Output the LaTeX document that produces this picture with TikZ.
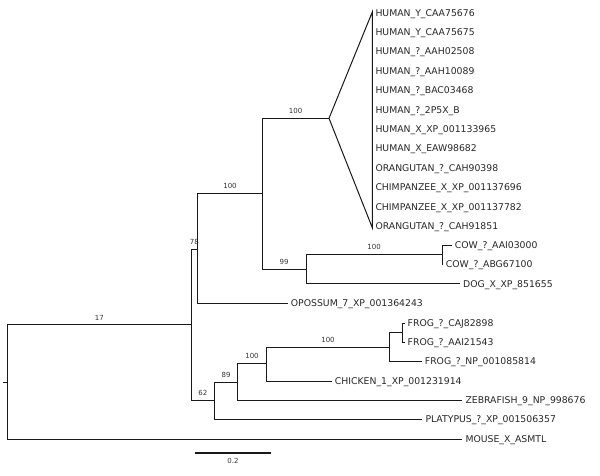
\documentclass[tikz,border=0pt]{standalone}
\usepackage{fontspec}
\setmainfont{DejaVu Sans}
\begin{document}
\begin{tikzpicture}[x=1pt,y=-1pt,
		branch/.style={draw=black!90, line width=1pt},
		leaf/.style={anchor=west, inner sep=3pt, text height=6.8pt, text depth=0pt, text=black!85, font=\fontsize{9.3}{11}\selectfont},
		boot/.style={pos=0.75, anchor=south, inner sep=0pt, yshift=4pt, text height=5pt, text depth=0pt, text=black!80, font=\fontsize{7}{8}\selectfont}]
		\useasboundingbox (0,0) rectangle (600,476);
		% inner nodes of the tree
		\coordinate (rootstub) at (3,382);
		\coordinate (root) at (7.7,382);
		\coordinate (n17) at (191,324.7);
		\coordinate (n78) at (197.7,249);
		\coordinate (prim) at (262.3,193.3);
		\coordinate (hom) at (329,118.3);
		\coordinate (tritop) at (372.3,12);
		\coordinate (tribot) at (372.3,227.7);
		\coordinate (laur) at (306,269.3);
		\coordinate (cow) at (442.3,254.3);
		\coordinate (n62) at (214.7,400.3);
		\coordinate (n89) at (237.3,382.3);
		\coordinate (tetra) at (266.7,363.3);
		\coordinate (frog) at (389.3,347.3);
		\coordinate (frogsub) at (402.7,332.3);
		% collapsed clade
		\node[leaf] (h1) at (372.3,12.7) {HUMAN\_Y\_CAA75676};
		\node[leaf] (h2) at (372.3,32.1) {HUMAN\_Y\_CAA75675};
		\node[leaf] (h3) at (372.3,51.5) {HUMAN\_?\_AAH02508};
		\node[leaf] (h4) at (372.3,70.9) {HUMAN\_?\_AAH10089};
		\node[leaf] (h5) at (372.3,90.3) {HUMAN\_?\_BAC03468};
		\node[leaf] (h6) at (372.3,109.7) {HUMAN\_?\_2P5X\_B};
		\node[leaf] (h7) at (372.3,129.1) {HUMAN\_X\_XP\_001133965};
		\node[leaf] (h8) at (372.3,148.5) {HUMAN\_X\_EAW98682};
		\node[leaf] (h9) at (372.3,167.9) {ORANGUTAN\_?\_CAH90398};
		\node[leaf] (h10) at (372.3,187.3) {CHIMPANZEE\_X\_XP\_001137696};
		\node[leaf] (h11) at (372.3,206.7) {CHIMPANZEE\_X\_XP\_001137782};
		\node[leaf] (h12) at (372.3,226.1) {ORANGUTAN\_?\_CAH91851};
		% other leaves
		\node[leaf] (cow1) at (451.7,245) {COW\_?\_AAI03000};
		\node[leaf] (cow2) at (442.7,264.3) {COW\_?\_ABG67100};
		\node[leaf] (dog) at (460,283.7) {DOG\_X\_XP\_851655};
		\node[leaf] (opossum) at (287.7,303.3) {OPOSSUM\_7\_XP\_001364243};
		\node[leaf] (frog1) at (404.5,323.3) {FROG\_?\_CAJ82898};
		\node[leaf] (frog2) at (404.5,342) {FROG\_?\_AAI21543};
		\node[leaf] (frog3) at (421.7,361) {FROG\_?\_NP\_001085814};
		\node[leaf] (chicken) at (331.7,381) {CHICKEN\_1\_XP\_001231914};
		\node[leaf] (zebrafish) at (462.3,400) {ZEBRAFISH\_9\_NP\_998676};
		\node[leaf] (platypus) at (422.3,419.3) {PLATYPUS\_?\_XP\_001506357};
		\node[leaf] (mouse) at (462.3,439) {MOUSE\_X\_ASMTL};
		% branches
		\draw[branch] (rootstub) -- (root);
		\draw[branch] (root) |- node[boot] {17} (n17);
		\draw[branch] (root) |- (mouse.west);
		\draw[branch] (n17) |- node[boot] {78} (n78);
		\draw[branch] (n17) |- node[boot] {62} (n62);
		\draw[branch] (n78) |- node[boot] {100} (prim);
		\draw[branch] (n78) |- (opossum.west);
		\draw[branch] (prim) |- node[boot] {100} (hom);
		\draw[branch] (prim) |- node[boot] {99} (laur);
		\draw[branch] (hom) -- (tritop) -- (tribot) -- cycle;
		\draw[branch] (laur) |- node[boot] {100} (cow);
		\draw[branch] (laur) |- (dog.west);
		\draw[branch] (cow) |- (cow1.west);
		\draw[branch] (cow) |- (cow2.west);
		\draw[branch] (n62) |- node[boot] {89} (n89);
		\draw[branch] (n62) |- (platypus.west);
		\draw[branch] (n89) |- node[boot] {100} (tetra);
		\draw[branch] (n89) |- (zebrafish.west);
		\draw[branch] (tetra) |- node[boot] {100} (frog);
		\draw[branch] (tetra) |- (chicken.west);
		\draw[branch] (frog) |- (frogsub);
		\draw[branch] (frog) |- (frog3.west);
		\draw[branch] (frogsub) |- (frog1.west);
		\draw[branch] (frogsub) |- (frog2.west);
		% scale bar
		\coordinate (sbl) at (195,453);
		\coordinate (sbr) at (271,453);
		\draw[draw=black!90, line width=1.6pt] (sbl) -- node[below=5pt, inner sep=0pt, text=black!80, font=\fontsize{7}{8}\selectfont] (sblabel) {0.2} (sbr);
	\end{tikzpicture}
\end{document}
